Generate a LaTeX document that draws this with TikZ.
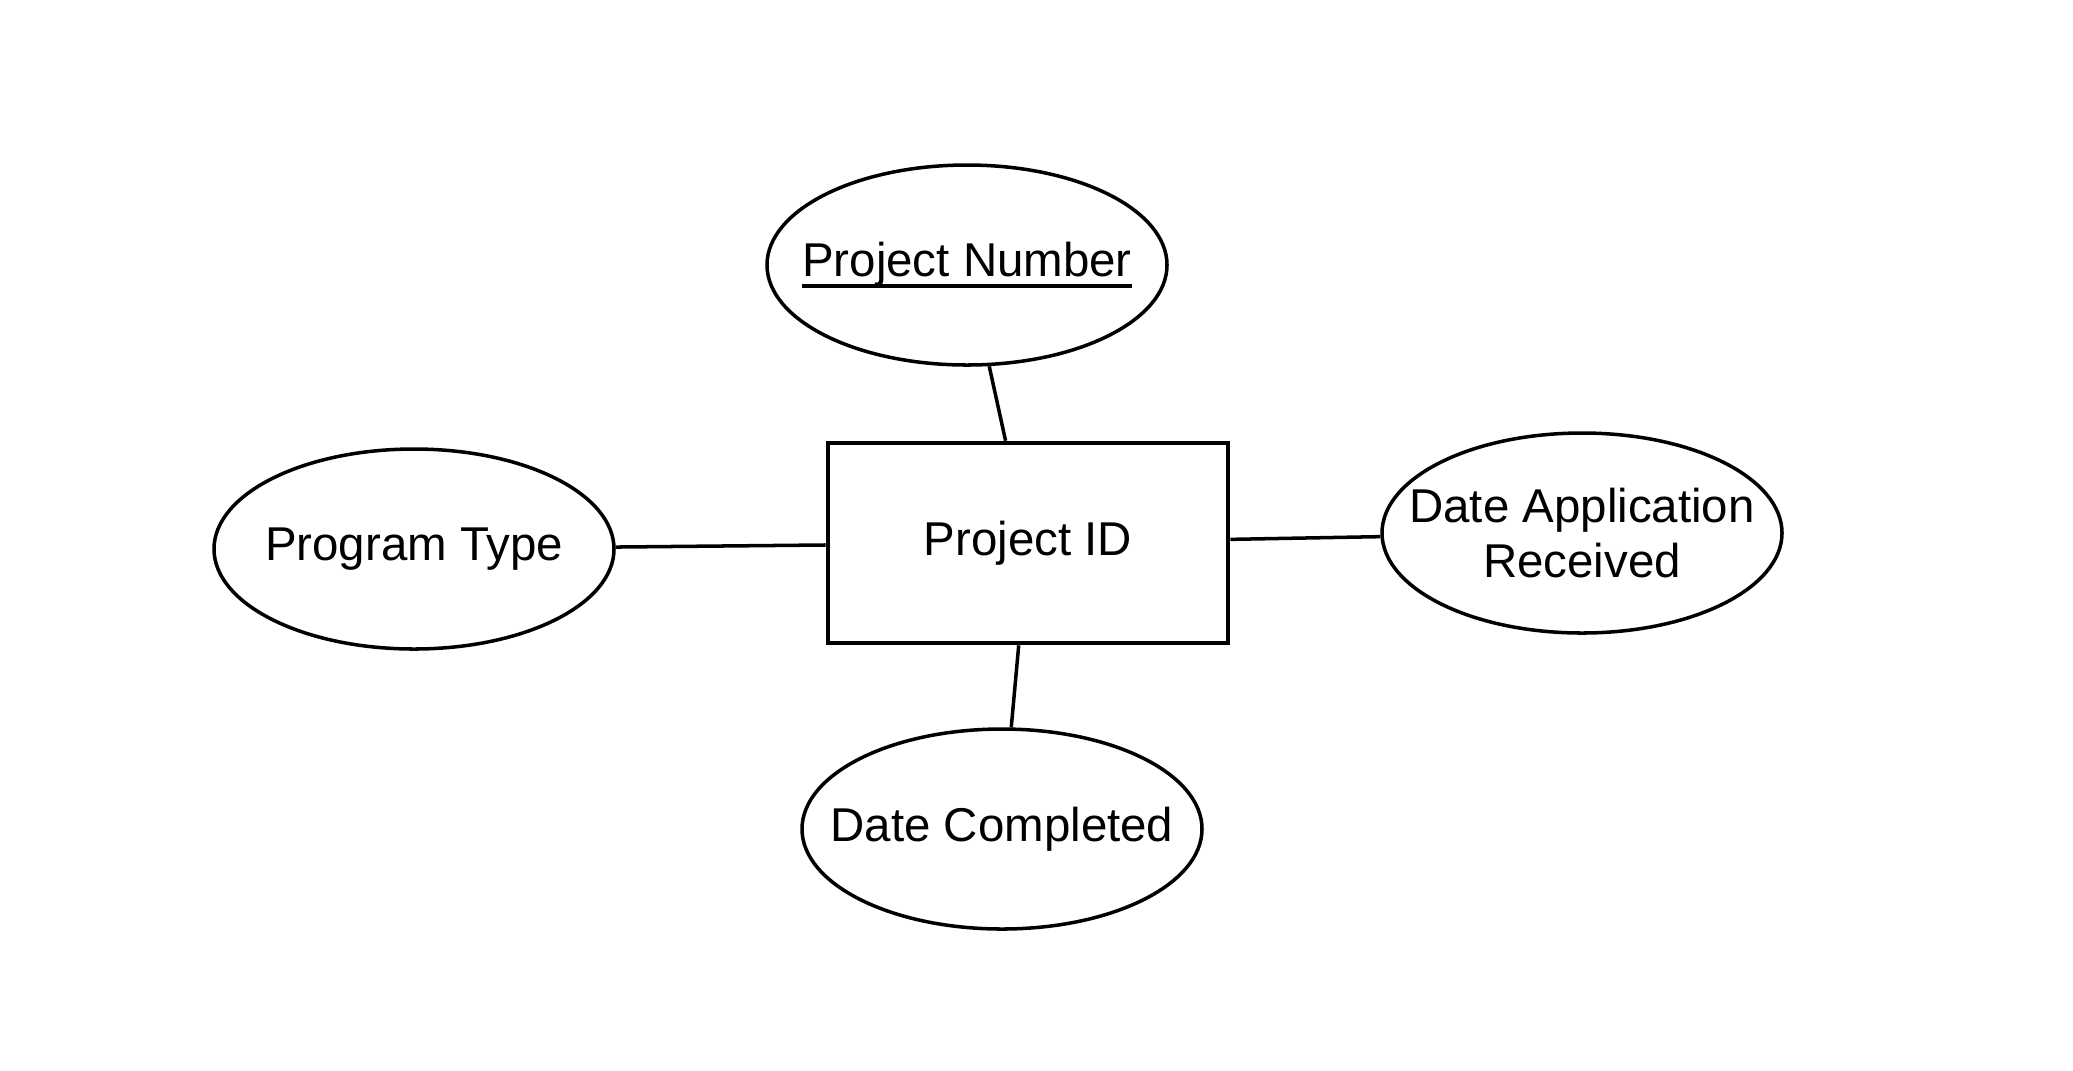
\documentclass[tikz,border=0pt]{standalone}
\usepackage{fontspec}
\setmainfont{Liberation Sans}
\usetikzlibrary{shapes.geometric}
\newcommand{\keyattr}[1]{\setbox0\hbox{#1}\rlap{\rule[-0.23em]{\wd0}{1pt}}\box0}

\begin{document}
\begin{tikzpicture}[
    every node/.style={font=\fontsize{13.5}{15.5}\selectfont, align=center},
    entity/.style={draw, line width=1.3pt, minimum width=4cm, minimum height=2cm, inner sep=0pt},
    attr/.style={draw, ellipse, line width=1pt, minimum width=4cm, minimum height=2cm, inner xsep=-0.5cm, inner ysep=0pt},
    link/.style={line width=1pt}
]
        \useasboundingbox (0, 0) rectangle (20.73, -10.70);
        \node[entity] (project) at (10.28, -5.43) {Project ID};
        \node[attr] (number) at (9.67, -2.65) {\keyattr{Project Number}};
        \node[attr] (program) at (4.14, -5.49) {Program Type};
        \node[attr] (received) at (15.82, -5.33) {Date Application\\Received};
        \node[attr] (completed) at (10.02, -8.29) {Date Completed};
        \draw[link] (number) -- (project);
        \draw[link] (program) -- (project);
        \draw[link] (project) -- (received);
        \draw[link] (project) -- (completed);

    \end{tikzpicture}
\end{document}
